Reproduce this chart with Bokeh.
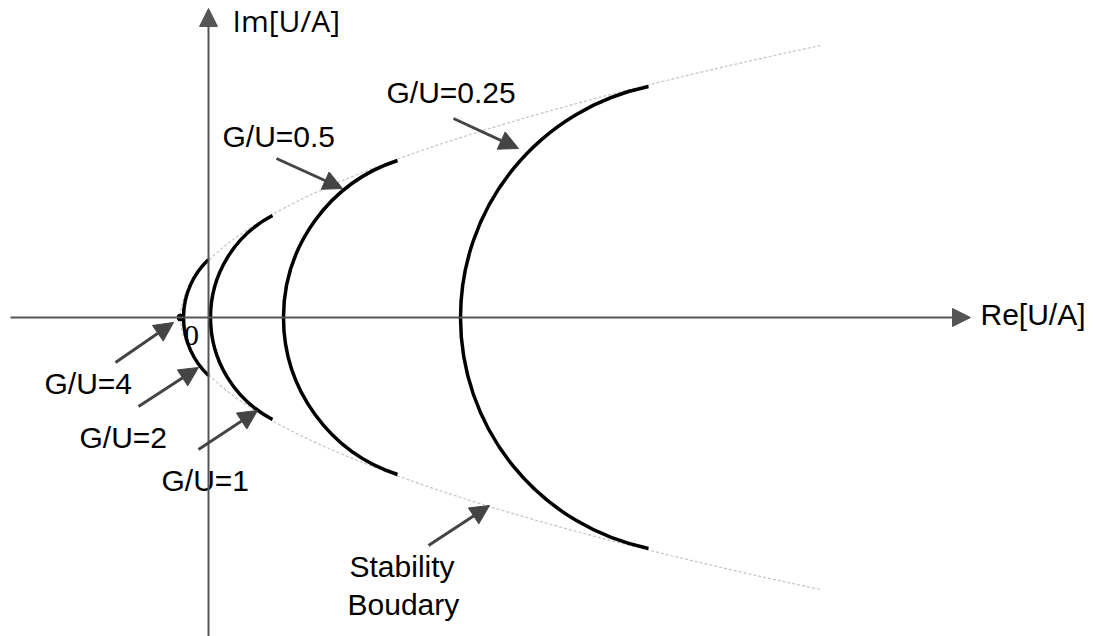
import numpy as np
from bokeh.plotting import figure
from bokeh.models import Arrow, NormalHead, Range1d, ColumnDataSource
from bokeh.core.properties import value
from bokeh.embed import file_html
from bokeh.resources import INLINE

# G/U ratios and their curves in the complex U/A plane
gu_ratio = ["4", "2", "1", "0.5", "0.25"]
curve_vertex_re = [-0.28, -0.25, 0.02, 0.75, 2.52]   # crossing of the real axis
curve_end_re = [-0.28, 0.00, 0.64, 1.89, 4.40]       # real part at the curve ends
curve_end_im = [0.00, 0.58, 1.02, 1.57, 2.31]        # |imag part| at the curve ends

# stability boundary (parabola opening to the right)
boundary_vertex_re = -0.28
boundary_end_re = 6.12
boundary_end_im = 2.72

FONT = value("Liberation Sans")
AXIS_COLOR = "#555555"
NOTE_COLOR = "#444444"
SIZE = "30px"

p = figure(width=1093, height=636, output_backend="svg", toolbar_location=None,
           x_range=Range1d(-2.08, 8.85), y_range=Range1d(-3.19, 3.17),
           x_axis_type=None, y_axis_type=None, min_border=0)
p.outline_line_color = None
p.background_fill_color = "white"

# stability boundary drawn as a quadratic Bezier (an exact parabola)
ctrl_re = 2 * boundary_vertex_re - boundary_end_re
p.quadratic(x0=[boundary_end_re], y0=[boundary_end_im],
            x1=[boundary_end_re], y1=[-boundary_end_im],
            cx=[ctrl_re], cy=[0.0],
            line_color="#c4c4c4", line_width=1.2, line_dash="3 2")

# circular arcs through the vertex and both end points
v = np.array(curve_vertex_re[1:])
e = np.array(curve_end_re[1:])
h = np.array(curve_end_im[1:])
centers = (e**2 + h**2 - v**2) / (2 * (e - v))
radii = centers - v
a1 = np.arctan2(h, e - centers)
arcs = ColumnDataSource(dict(x=centers, y=np.zeros_like(centers), r=radii,
                             a0=a1, a1=2 * np.pi - a1))
p.arc(x="x", y="y", radius="r", start_angle="a0", end_angle="a1",
      source=arcs, line_color="black", line_width=3.5)

# G/U = 4 collapses to a single point
p.scatter(x=[curve_vertex_re[0]], y=[0.0], size=7, color="black")

# coordinate axes with arrow heads
p.add_layout(Arrow(x_start=-1.98, y_start=0, x_end=7.62, y_end=0,
                   line_color=AXIS_COLOR, line_width=2,
                   end=NormalHead(size=18, fill_color=AXIS_COLOR, line_color=AXIS_COLOR)))
p.add_layout(Arrow(x_start=0, y_start=-3.25, x_end=0, y_end=3.09,
                   line_color=AXIS_COLOR, line_width=2,
                   end=NormalHead(size=18, fill_color=AXIS_COLOR, line_color=AXIS_COLOR)))

p.text(x=[0.24], y=[2.97], text=["Im[U/A]"], text_font=value("Open Sans"),
       text_font_size=SIZE, text_color="black", text_baseline="alphabetic")
p.text(x=[7.72], y=[0.03], text=["Re[U/A]"], text_font=FONT,
       text_font_size=SIZE, text_color="black", text_baseline="alphabetic")
p.text(x=[-0.17], y=[-0.18], text=["0"], text_font=value("Liberation Serif"),
       text_font_size="30px", text_color="black", text_align="center",
       text_baseline="alphabetic")

# labels for each curve and the boundary, with pointer arrows
label_x = [-1.64, -1.29, -0.47, 0.14, 1.78]
label_y = [-0.66, -1.20, -1.63, 1.81, 2.25]
p.text(x=label_x, y=label_y, text=["G/U=" + g for g in gu_ratio], text_font=FONT,
       text_font_size=SIZE, text_color="black", text_baseline="alphabetic")
p.text(x=[1.41, 1.39], y=[-2.49, -2.87], text=["Stability", "Boudary"], text_font=FONT,
       text_font_size=SIZE, text_color="black", text_baseline="alphabetic")

pointers = [
    (-0.93, -0.45, -0.35, -0.05),
    (-0.70, -0.89, -0.10, -0.50),
    (-0.10, -1.32, 0.49, -0.93),
    (0.68, 1.59, 1.34, 1.29),
    (2.45, 1.99, 3.10, 1.69),
    (2.20, -2.28, 2.81, -1.88),
]
for xs, ys, xe, ye in pointers:
    p.add_layout(Arrow(x_start=xs, y_start=ys, x_end=xe, y_end=ye,
                       line_color=NOTE_COLOR, line_width=3,
                       end=NormalHead(size=19, fill_color=NOTE_COLOR, line_color=NOTE_COLOR)))

open("out.html", "w").write(file_html(p, INLINE))
